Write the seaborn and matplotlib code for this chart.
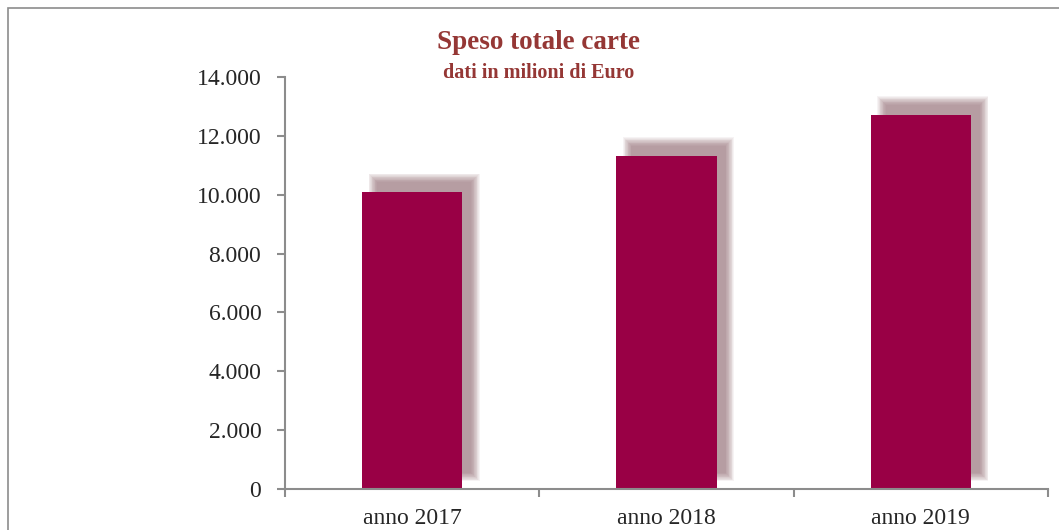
import matplotlib
matplotlib.use("Agg")
import matplotlib.pyplot as plt
import matplotlib.ticker as mticker
from matplotlib.patches import Rectangle
import pandas as pd
import seaborn as sns

# data
anni = ["anno 2017", "anno 2018", "anno 2019"]
speso = [10100, 11330, 12720]
y_ticks = [0, 2000, 4000, 6000, 8000, 10000, 12000, 14000]

bar_color = "#990045"
title_color = "#953735"
axis_color = "#8c8c8c"
shadow_color = "#8a5f66"

df = pd.DataFrame({"anno": anni, "speso": speso})

sns.set_style("white")
plt.rcParams["font.family"] = ["Liberation Serif", "DejaVu Serif"]

fig = plt.figure(figsize=(10.59, 5.30), dpi=100)
ax = fig.add_axes([0.2691, 0.0774, 0.7205, 0.7773])

sns.barplot(data=df, x="anno", y="speso", color=bar_color, width=0.395,
            saturation=1, linewidth=0, edgecolor="none", ax=ax, zorder=3)

ax.set_ylim(0, 14000)
ax.set_xlim(-0.5, 2.5)

# soft shadow behind each bar (shifted right and up, blurred)
px_x = 3 / 763.0
px_y = 14000 / 412.0
for p in list(ax.patches)[:len(anni)]:
    x0, y0 = p.get_x(), p.get_y()
    w, h = p.get_width(), p.get_height()
    sx, sy = x0 + 12 * px_x, y0 + 13 * px_y
    for k in range(12):
        e = -3 + 0.75 * k
        ax.add_patch(Rectangle((sx - e * px_x, sy - e * px_y),
                               w + 2 * e * px_x, h + 2 * e * px_y,
                               facecolor=shadow_color, edgecolor="none", alpha=0.07,
                               zorder=2))

ax.set_yticks(y_ticks)
ax.yaxis.set_major_formatter(mticker.FuncFormatter(lambda v, pos: f"{int(v):,}".replace(",", ".")))
ax.set_xticks([-0.5, 0.5, 1.5, 2.5])
ax.set_xticklabels([])
ax.set_xticks([0, 1, 2], minor=True)
ax.set_xticklabels(anni, minor=True)
ax.tick_params(axis="x", which="minor", bottom=True, length=0, labelsize=17, pad=14)
ax.tick_params(axis="x", which="major", bottom=True, length=6, width=1.5,
               color=axis_color, direction="out")
ax.tick_params(axis="y", left=True, length=6, width=1.5, color=axis_color, direction="out",
               labelsize=17, pad=11)
ax.set_xlabel("")
ax.set_ylabel("")

for s in ["top", "right"]:
    ax.spines[s].set_visible(False)
for s in ["left", "bottom"]:
    ax.spines[s].set_color(axis_color)
    ax.spines[s].set_linewidth(1.5)
    ax.spines[s].set_zorder(4)

fig.text(0.5085, 0.919, "Speso totale carte", ha="center", va="center",
         fontsize=19.5, fontweight="bold", color=title_color)
fig.text(0.5085, 0.862, "dati in milioni di Euro", ha="center", va="center",
         fontsize=14.5, fontweight="bold", color=title_color)

# chart frame
fig.add_artist(Rectangle((0.0076, -0.05), 1.2, 1.05 - 0.0151, transform=fig.transFigure,
                         fill=False, edgecolor="#8c8c8c", linewidth=1.2))

fig.savefig("out.png", dpi=100)
